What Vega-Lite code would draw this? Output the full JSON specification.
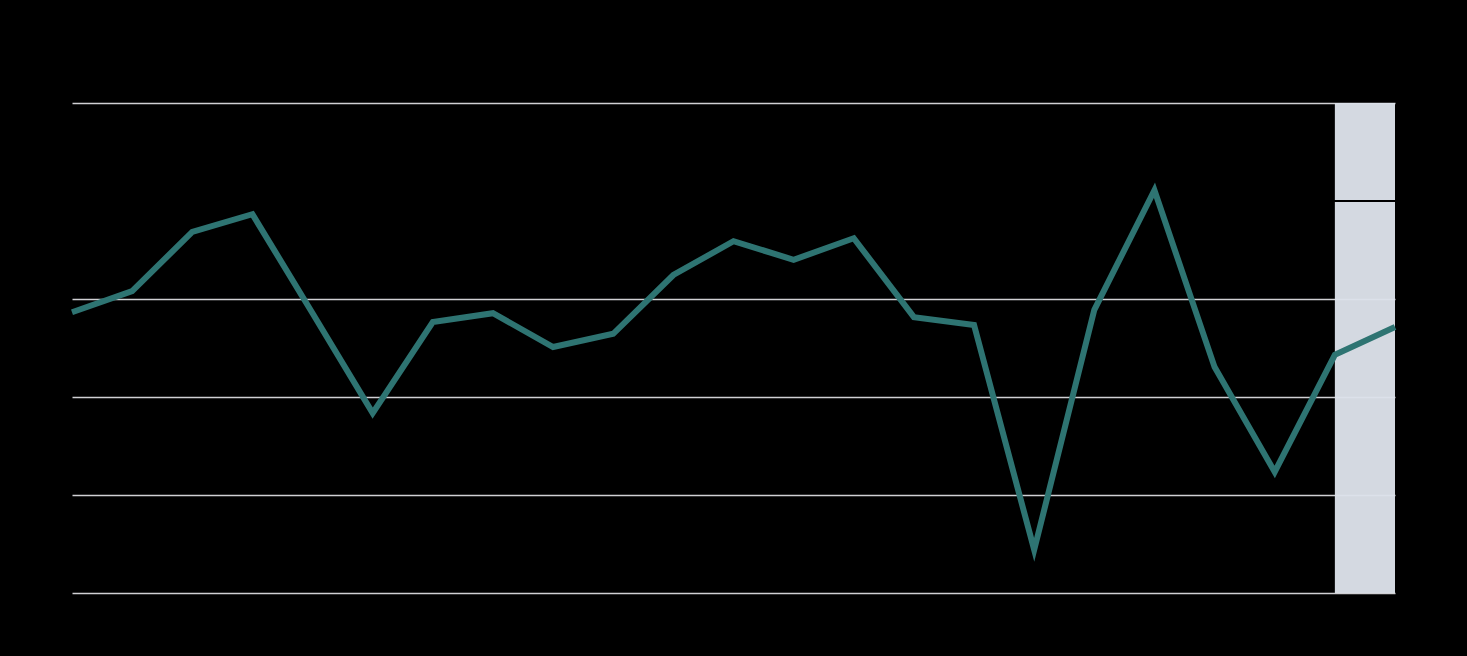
{
  "$schema": "https://vega.github.io/schema/vega-lite/v6.json",
  "width": 1323,
  "height": 490,
  "autosize": {"type": "none"},
  "padding": {"left": 72, "top": 103, "right": 72, "bottom": 63},
  "background": "#000000",
  "config": {
    "view": {"stroke": null},
    "font": "Roboto",
    "axis": {"labelColor": "#000000", "titleColor": "#000000", "domain": false, "ticks": false}
  },
  "datasets": {
    "series": [
      {"year": 2004, "value": -2.27},
      {"year": 2005, "value": -1.84},
      {"year": 2006, "value": -0.63},
      {"year": 2007, "value": -0.27},
      {"year": 2008, "value": -2.29},
      {"year": 2009, "value": -4.33},
      {"year": 2010, "value": -2.47},
      {"year": 2011, "value": -2.29},
      {"year": 2012, "value": -2.98},
      {"year": 2013, "value": -2.71},
      {"year": 2014, "value": -1.51},
      {"year": 2015, "value": -0.82},
      {"year": 2016, "value": -1.2},
      {"year": 2017, "value": -0.76},
      {"year": 2018, "value": -2.37},
      {"year": 2019, "value": -2.53},
      {"year": 2020, "value": -7.12},
      {"year": 2021, "value": -2.22},
      {"year": 2022, "value": 0.22},
      {"year": 2023, "value": -3.39},
      {"year": 2024, "value": -5.53},
      {"year": 2025, "value": -3.14},
      {"year": 2026, "value": -2.57}
    ],
    "forecast": [{"start": 2025, "end": 2026, "top": 2, "bottom": -8}],
    "zero": [{"value": 0}]
  },
  "layer": [
    {
      "data": {"name": "series"},
      "mark": {"type": "rule", "opacity": 0},
      "encoding": {
        "x": {"field": "year", "type": "quantitative", "scale": {"domain": [2004, 2026], "nice": false, "zero": false},
              "axis": {"format": "d", "grid": false, "tickCount": 12, "labelFontSize": 14, "title": null}},
        "y": {"field": "value", "type": "quantitative", "scale": {"domain": [-8, 2], "nice": false},
              "axis": {"values": [-8, -6, -4, -2, 0, 2], "grid": true,
                       "gridColor": {"condition": {"test": "datum.value === 0", "value": "#000000"}, "value": "#d0d0d4"},
                       "gridWidth": 1.5, "labelFontSize": 14, "title": null}}
      }
    },
    {
      "data": {"name": "forecast"},
      "mark": {"type": "rect", "color": "#dde2ea", "opacity": 0.96},
      "encoding": {
        "x": {"field": "start", "type": "quantitative"},
        "x2": {"field": "end"},
        "y": {"field": "top", "type": "quantitative"},
        "y2": {"field": "bottom"}
      }
    },
    {
      "data": {"name": "zero"},
      "mark": {"type": "rule", "color": "#000000", "strokeWidth": 2},
      "encoding": {"y": {"field": "value", "type": "quantitative"}}
    },
    {
      "data": {"name": "series"},
      "mark": {"type": "line", "color": "#2e7472", "strokeWidth": 6, "strokeJoin": "miter"},
      "encoding": {
        "x": {"field": "year", "type": "quantitative"},
        "y": {"field": "value", "type": "quantitative"}
      }
    }
  ]
}
